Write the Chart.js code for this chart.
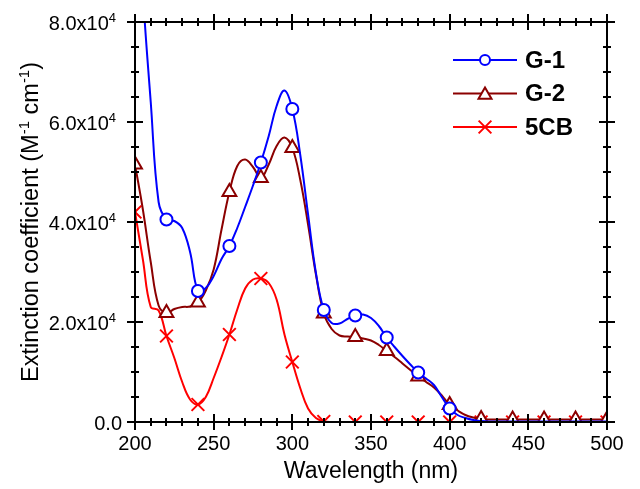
<!DOCTYPE html>
<html>
<head>
<meta charset="utf-8">
<script src="https://cdn.jsdelivr.net/npm/chart.js@4.4.1/dist/chart.umd.min.js"></script>
<style>
  html, body { margin: 0; padding: 0; background: #fff; }
  canvas { display: block; }
</style>
</head>
<body>
<canvas id="chart" width="640" height="489"></canvas>
<script>
// Absorption spectra, sampled every 5 nm
const wavelengths = [
  200, 205, 210, 215, 220, 225, 230, 235, 240, 245,
  250, 255, 260, 265, 270, 275, 280, 285, 290, 295,
  300, 305, 310, 315, 320, 325, 330, 335, 340, 345,
  350, 355, 360, 365, 370, 375, 380, 385, 390, 395,
  400, 405, 410, 415, 420, 425, 430, 435, 440, 445,
  450, 455, 460, 465, 470, 475, 480, 485, 490, 495, 500
];

const g1Values = [
  118000, 86000, 64000, 44000, 40500, 40200, 38800, 34000, 26200, 26800,
  29200, 32600, 35200, 38800, 43000, 47300, 51900, 57200, 63200, 66300,
  62600, 53500, 41500, 29800, 22400, 19800, 19700, 20600, 21300, 21500,
  20800, 19200, 16900, 15000, 13200, 11500, 9900, 8700, 7400, 5000,
  2700, 1400, 800, 400, 200, 100, 100, 100, 100, 100,
  100, 100, 100, 100, 100, 100, 100, 100, 100, 100, 100
];

const g2Values = [
  51500, 42500, 32000, 23300, 21800, 22600, 23000, 23100, 23900, 26300,
  30500, 38500, 46000, 51200, 52500, 51000, 48800, 51500, 55200, 56900,
  54800, 48500, 39500, 29500, 21700, 18600, 17300, 17100, 17000, 16700,
  16300, 15400, 14200, 13000, 11700, 10400, 9100, 8000, 6900, 5300,
  3400, 2300, 1400, 900, 600, 500, 500, 500, 500, 500,
  500, 500, 500, 500, 500, 500, 500, 500, 500, 500, 500
];

const cbValues = [
  42000, 32500, 23000, 22300, 17200, 12800, 8000, 4500, 3500, 5000,
  8800, 13000, 17500, 22500, 26700, 28500, 28700, 27800, 24500, 17500,
  12000, 6800, 2700, 800, 100, 0, 0, 0, 0, 0,
  0, 0, 0, 0, 0, 0, 0, 0, 0, 0,
  0, 0, 0, 0, 0, 0, 0, 0, 0, 0,
  0, 0, 0, 0, 0, 0, 0, 0, 0, 0, 0
];

const seriesNames = ['G-1', 'G-2', '5CB'];

// Axis ticks
const xMajorTicks = [200, 250, 300, 350, 400, 450, 500];
const xTickLabels = ['200', '250', '300', '350', '400', '450', '500'];
const yMajorTicks = [0, 20000, 40000, 60000, 80000];
const yTickMantissas = ['0.0', '2.0', '4.0', '6.0', '8.0'];
const yTickExponent = '4';

const FONT = '"Liberation Sans", Arial, sans-serif';

function toPoints(values) {
  return wavelengths.map((w, i) => ({ x: w, y: values[i] }));
}

// markers every 20 nm, optionally up to a limit
function markerRadius(r, maxW) {
  return ctx => {
    const p = ctx.raw;
    if (!p) return 0;
    return (p.x % 20 === 0 && p.x <= maxW) ? r : 0;
  };
}

const datasets = [
  {
    label: seriesNames[0],
    data: toPoints(g1Values),
    borderColor: '#0000ff',
    pointStyle: 'circle',
    pointRadius: markerRadius(6, 400),
    legendRadius: 5
  },
  {
    label: seriesNames[1],
    data: toPoints(g2Values),
    borderColor: '#8b0000',
    pointStyle: 'triangle',
    pointRadius: markerRadius(8, 500),
    legendRadius: 7.5
  },
  {
    label: seriesNames[2],
    data: toPoints(cbValues),
    borderColor: '#ff0000',
    pointStyle: 'crossRot',
    pointRadius: markerRadius(9, 500),
    legendRadius: 9
  }
].map(d => Object.assign({
  borderWidth: 2,
  pointBorderWidth: 2,
  pointBorderColor: d.borderColor,
  pointBackgroundColor: '#ffffff',
  pointHoverRadius: 0,
  tension: 0.4,
  fill: false
}, d));

// text with superscript pieces, drawn centred on (cx, cy)
function drawRich(ctx, parts, cx, cy, size, supSize, supRise, weight) {
  const w = parts.map(p => {
    ctx.font = `${weight || ''} ${p.sup ? supSize : size}px ${FONT}`;
    return ctx.measureText(p.text).width;
  });
  const total = w.reduce((a, b) => a + b, 0);
  let x = cx - total / 2;
  ctx.textAlign = 'left';
  ctx.textBaseline = 'alphabetic';
  const base = cy + size * 0.36;
  parts.forEach((p, i) => {
    ctx.font = `${weight || ''} ${p.sup ? supSize : size}px ${FONT}`;
    ctx.fillText(p.text, x, p.sup ? base - supRise : base);
    x += w[i];
  });
}

const framePlugin = {
  id: 'framePlugin',
  afterDatasetsDraw(chart) {
    const { ctx, chartArea: a, scales: { x, y } } = chart;
    ctx.save();
    ctx.strokeStyle = '#000';
    ctx.fillStyle = '#000';
    ctx.lineWidth = 2;
    ctx.lineCap = 'butt';
    ctx.strokeRect(a.left, a.top, a.right - a.left, a.bottom - a.top);

    // x ticks on bottom and top, crossing the frame
    ctx.beginPath();
    for (let v = x.min; v <= x.max + 0.001; v += 10) {
      const px = Math.round(x.getPixelForValue(v));
      const h = xMajorTicks.includes(v) ? 8 : 4;
      ctx.moveTo(px, a.bottom - h); ctx.lineTo(px, a.bottom + h);
      ctx.moveTo(px, a.top - h); ctx.lineTo(px, a.top + h);
    }
    // y ticks on left and right
    for (let v = y.min; v <= y.max + 1; v += 5000) {
      const py = Math.round(y.getPixelForValue(v));
      const h = yMajorTicks.includes(v) ? 8 : 4;
      ctx.moveTo(a.left - h, py); ctx.lineTo(a.left + h, py);
      ctx.moveTo(a.right - h, py); ctx.lineTo(a.right + h, py);
    }
    ctx.stroke();

    // x tick labels
    ctx.font = `20px ${FONT}`;
    ctx.textAlign = 'center';
    ctx.textBaseline = 'middle';
    xMajorTicks.forEach((v, i) => {
      ctx.fillText(xTickLabels[i], x.getPixelForValue(v), a.bottom + 22);
    });

    // y tick labels with power-of-ten exponent
    yMajorTicks.forEach((v, i) => {
      const py = y.getPixelForValue(v);
      ctx.textBaseline = 'alphabetic';
      ctx.textAlign = 'right';
      if (v === 0) {
        ctx.font = `20px ${FONT}`;
        ctx.fillText(yTickMantissas[i], a.left - 13, py + 7.5);
      } else {
        ctx.font = `13px ${FONT}`;
        const ew = ctx.measureText(yTickExponent).width;
        const right = a.left - 19;
        ctx.fillText(yTickExponent, right, py - 0.5);
        ctx.font = `20px ${FONT}`;
        ctx.fillText(yTickMantissas[i] + 'x10', right - ew, py + 7.5);
      }
    });

    // axis titles
    drawRich(ctx, [{ text: 'Wavelength (nm)' }], (a.left + a.right) / 2, 470, 23, 14, 9);
    ctx.save();
    ctx.translate(30, (a.top + a.bottom) / 2);
    ctx.rotate(-Math.PI / 2);
    drawRich(ctx, [
      { text: 'Extinction coefficient (M' },
      { text: '-1', sup: true },
      { text: ' cm' },
      { text: '-1', sup: true },
      { text: ')' }
    ], 0, 0, 23.5, 15, 9.5);
    ctx.restore();

    // legend
    const rows = [60, 93.5, 127];
    chart.data.datasets.forEach((d, i) => {
      const ly = rows[i];
      ctx.strokeStyle = d.borderColor;
      ctx.lineWidth = 2;
      ctx.beginPath();
      ctx.moveTo(453, ly); ctx.lineTo(517, ly);
      ctx.stroke();
      ctx.fillStyle = '#fff';
      Chart.helpers.drawPoint(ctx, {
        pointStyle: d.pointStyle, rotation: 0,
        radius: d.legendRadius, borderWidth: 2
      }, 485, d.pointStyle === 'triangle' ? ly + 1.5 : ly);
      ctx.fillStyle = '#000';
      ctx.font = `bold 24px ${FONT}`;
      ctx.textAlign = 'left';
      ctx.textBaseline = 'middle';
      ctx.fillText(d.label, 525, ly + 1);
    });
    ctx.restore();
  }
};

new Chart(document.getElementById('chart'), {
  type: 'line',
  data: { datasets },
  options: {
    responsive: false,
    animation: false,
    events: [],
    layout: { padding: { left: 135, top: 22, right: 33, bottom: 67 } },
    scales: {
      x: { type: 'linear', min: 200, max: 500, display: false },
      y: { type: 'linear', min: 0, max: 80000, display: false }
    },
    plugins: {
      legend: { display: false },
      tooltip: { enabled: false }
    }
  },
  plugins: [framePlugin]
});
</script>
</body>
</html>
